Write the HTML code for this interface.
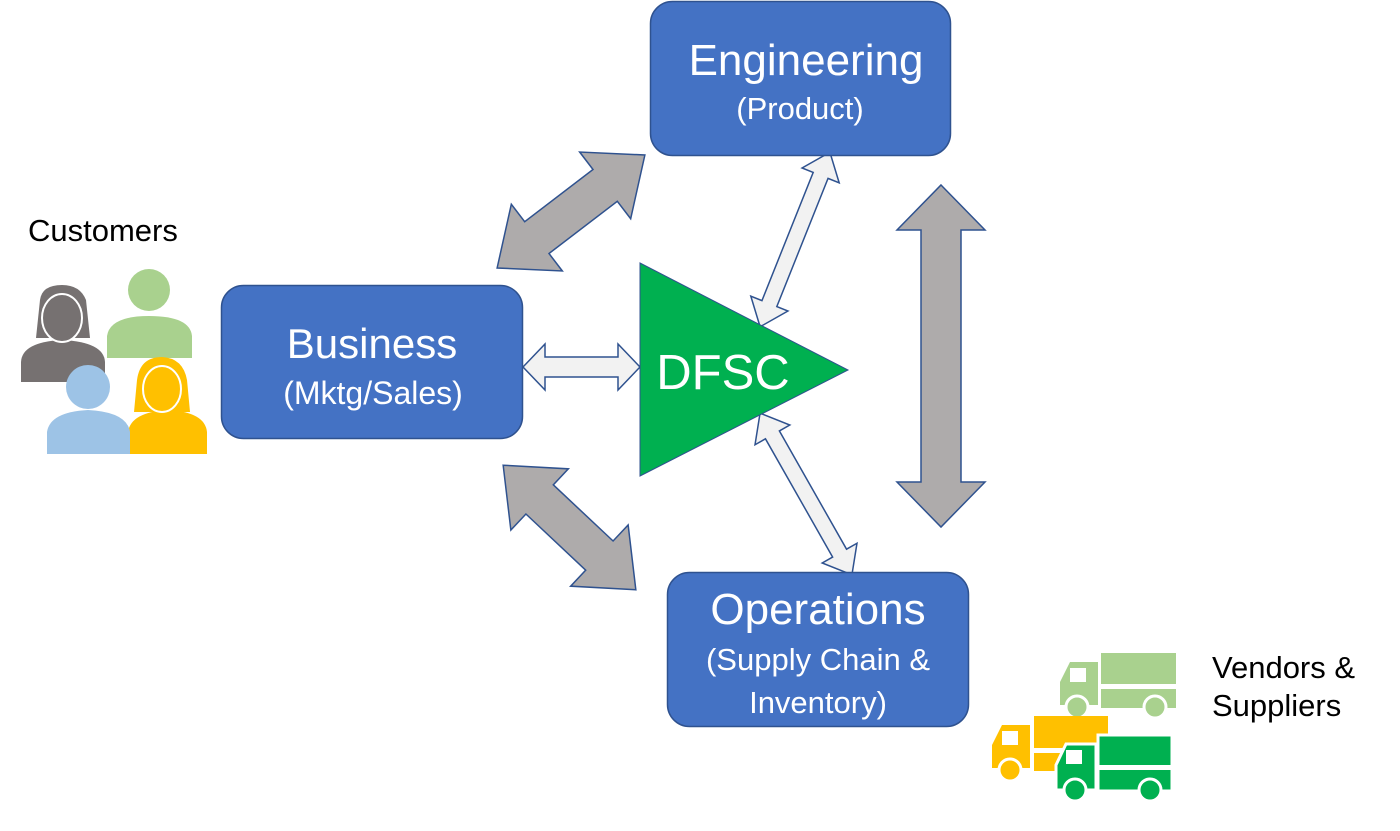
<!DOCTYPE html>
<html><head><meta charset="utf-8"><style>
body{margin:0;background:#fff;}
svg{display:block;}
text{font-family:"Liberation Sans",sans-serif;}
</style></head><body>
<svg width="1400" height="831" viewBox="0 0 1400 831" xmlns="http://www.w3.org/2000/svg">
<!-- gray arrows -->
<g fill="#AEABAB" stroke="#2F528F" stroke-width="1.5">
<polygon transform="translate(571,211.5) rotate(-37.4)" points="-93,0 -43,-42 -43,-20 43,-20 43,-42 93,0 43,42 43,20 -43,20 -43,42"/>
<polygon transform="translate(569.5,527.5) rotate(43.2)" points="-91,0 -41,-42 -41,-20 41,-20 41,-42 91,0 41,42 41,20 -41,20 -41,42"/>
<polygon transform="translate(941,356) rotate(90)" points="-171,0 -126,-44 -126,-20 126,-20 126,-44 171,0 126,44 126,20 -126,20 -126,44"/>
</g>
<!-- light arrows -->
<g fill="#F2F2F2" stroke="#2F528F" stroke-width="1.5">
<polygon transform="translate(581.5,367)" points="-58.5,0 -36.5,-23 -36.5,-10 36.5,-10 36.5,-23 58.5,0 36.5,23 36.5,10 -36.5,10 -36.5,23"/>
<polygon transform="translate(795,239.5) rotate(-68.2)" points="-94,0 -69,-20 -69,-8 69,-8 69,-20 94,0 69,20 69,8 -69,8 -69,20"/>
<polygon transform="translate(806,494) rotate(60.4)" points="-93,0 -68,-20 -68,-8 68,-8 68,-20 93,0 68,20 68,8 -68,8 -68,20"/>
</g>
<!-- boxes -->
<g fill="#4472C4" stroke="#2F528F" stroke-width="1.5">
<rect x="650.5" y="1.5" width="300" height="154" rx="22"/>
<rect x="221.5" y="285.5" width="301" height="153" rx="22"/>
<rect x="667.5" y="572.5" width="301" height="154" rx="22"/>
</g>
<polygon points="640,263 848,370 640,476" fill="#00B050" stroke="#2F528F" stroke-width="1"/>
<g fill="#fff" text-anchor="middle">
<text x="806" y="75" font-size="44">Engineering</text>
<text x="800" y="119" font-size="31">(Product)</text>
<text x="372" y="358" font-size="42">Business</text>
<text x="373" y="404" font-size="32">(Mktg/Sales)</text>
<text x="818" y="624" font-size="44">Operations</text>
<text x="818" y="670" font-size="31">(Supply Chain &amp;</text>
<text x="818" y="713" font-size="31">Inventory)</text>
<text x="723" y="389" font-size="49">DFSC</text>
</g>
<g fill="#000" font-size="31">
<text x="28" y="241">Customers</text>
<text x="1212" y="678">Vendors &amp;</text>
<text x="1212" y="716">Suppliers</text>
</g>
<!-- people -->
<g>
<path d="M40,300 Q42,285 62,285 Q80,285 86,300 L90,338 L36,338 Z" fill="#767171"/>
<path d="M21,382 L21,362 Q22,342 62,340 Q104,342 105,362 L105,382 Z" fill="#767171"/>
<ellipse cx="62" cy="318" rx="20" ry="24" fill="#767171" stroke="#fff" stroke-width="2"/>
<circle cx="149" cy="290" r="21" fill="#A9D18E"/>
<path d="M107,358 L107,336 Q110,316 149,316 Q190,316 192,336 L192,358 Z" fill="#A9D18E"/>
<path d="M137,380 Q140,357 162,357 Q183,358 187,380 L190,412 L134,412 Z" fill="#FFC000"/>
<path d="M128,454 L128,432 Q131,412 168,410 Q205,412 207,432 L207,454 Z" fill="#FFC000"/>
<ellipse cx="162" cy="389" rx="19" ry="23" fill="#FFC000" stroke="#fff" stroke-width="2"/>
<circle cx="88" cy="387" r="22" fill="#9DC3E6"/>
<path d="M47,454 L47,432 Q50,412 88,410 Q127,412 130,432 L130,454 Z" fill="#9DC3E6"/>
</g>
<!-- trucks -->
<g>
<g fill="#A9D18E">
<rect x="1101" y="653" width="75" height="55"/>
<path d="M1060,705 L1060,682 L1070,662 L1098,662 L1098,705 Z"/>
<circle cx="1077" cy="707" r="11" stroke="#fff" stroke-width="3"/>
<circle cx="1155" cy="707" r="11" stroke="#fff" stroke-width="3"/>
</g>
<rect x="1101" y="684" width="75" height="5" fill="#fff"/>
<rect x="1070" y="668" width="16" height="14" fill="#fff"/>
<g fill="#FFC000">
<rect x="1034" y="716" width="74" height="55"/>
<path d="M992,768 L992,745 L1002,725 L1030,725 L1030,768 Z"/>
<circle cx="1010" cy="770" r="11" stroke="#fff" stroke-width="3"/>
</g>
<rect x="1034" y="748" width="74" height="5" fill="#fff"/>
<rect x="1002" y="731" width="16" height="14" fill="#fff"/>
<g fill="#00B050" stroke="#fff" stroke-width="3">
<rect x="1098" y="735" width="74" height="56"/>
<path d="M1056,790 L1056,765 L1066,744 L1096,744 L1096,790 Z"/>
<circle cx="1075" cy="790" r="11"/>
<circle cx="1150" cy="790" r="11"/>
</g>
<rect x="1098" y="765" width="74" height="5" fill="#fff"/>
<rect x="1066" y="750" width="16" height="14" fill="#fff"/>
</g>
</svg>
</body></html>
